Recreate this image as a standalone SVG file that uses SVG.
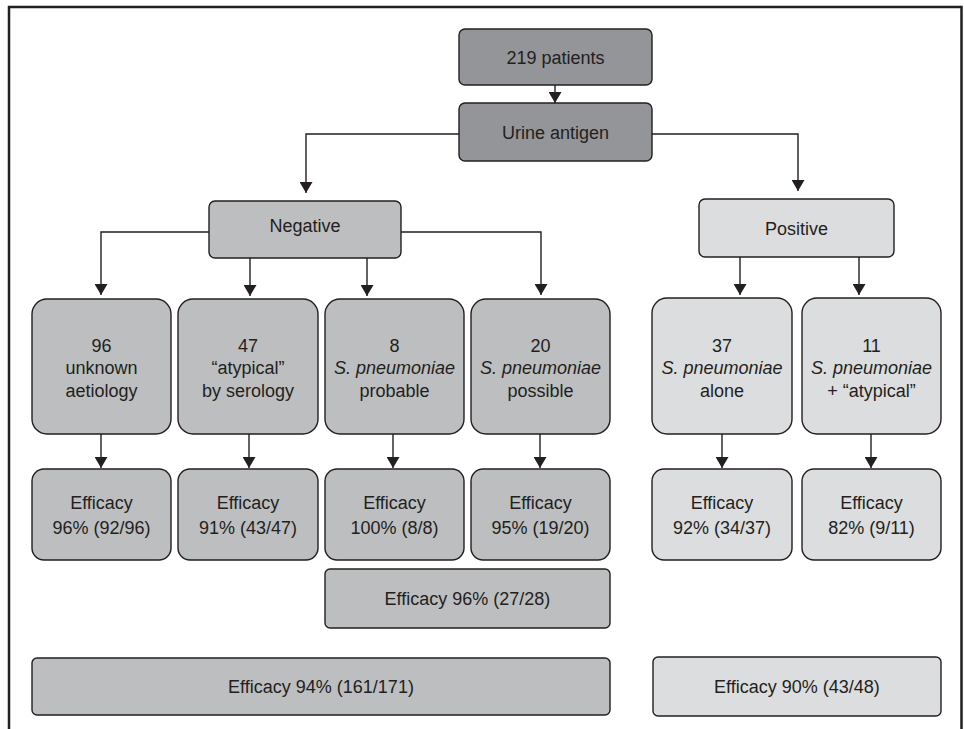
<svg xmlns="http://www.w3.org/2000/svg" width="964" height="729" viewBox="0 0 964 729">
<defs>
<style>
.t{font-family:"Liberation Sans",Arial,sans-serif;font-size:18px;fill:#231f20;text-anchor:middle}
.i{font-style:italic}
.b{stroke:#231f20;stroke-width:1.4}
.dk{fill:#939598}
.md{fill:#bcbec0}
.lt{fill:#dcddde}
.c{fill:none;stroke:#231f20;stroke-width:1.4}
</style>
<marker id="ah" markerWidth="11" markerHeight="13" refX="11" refY="6.5" orient="auto" markerUnits="userSpaceOnUse">
<path d="M0,0 L11,6.5 L0,13 Z" fill="#231f20"/>
</marker>
</defs>
<rect width="964" height="729" fill="#ffffff"/>
<path d="M9,729 V7 H961.5 V729" fill="none" stroke="#231f20" stroke-width="2.5"/>

<g id="connectors">
<path class="c" d="M555,85 V103" marker-end="url(#ah)"/>
<path class="c" d="M459,134 H306 V193" marker-end="url(#ah)"/>
<path class="c" d="M652,134 H798 V191" marker-end="url(#ah)"/>
<path class="c" d="M209,232 H101 V295" marker-end="url(#ah)"/>
<path class="c" d="M401,232 H541 V295" marker-end="url(#ah)"/>
<path class="c" d="M250,258 V296" marker-end="url(#ah)"/>
<path class="c" d="M367,258 V296" marker-end="url(#ah)"/>
<path class="c" d="M740,257 V295" marker-end="url(#ah)"/>
<path class="c" d="M859,257 V295" marker-end="url(#ah)"/>
<path class="c" d="M101,434 V468" marker-end="url(#ah)"/>
<path class="c" d="M249,434 V468" marker-end="url(#ah)"/>
<path class="c" d="M393,434 V468" marker-end="url(#ah)"/>
<path class="c" d="M540,434 V468" marker-end="url(#ah)"/>
<path class="c" d="M722,434 V468" marker-end="url(#ah)"/>
<path class="c" d="M871,434 V468" marker-end="url(#ah)"/>
</g>

<g id="n219">
<rect class="b dk" x="459" y="29" width="193" height="56" rx="6"/>
<text class="t" x="555.5" y="63.5">219 patients</text>
</g>
<g id="urine">
<rect class="b dk" x="459" y="103" width="193" height="58" rx="6"/>
<text class="t" x="555.5" y="138.5">Urine antigen</text>
</g>
<g id="negative">
<rect class="b md" x="209" y="201" width="192" height="57" rx="6"/>
<text class="t" x="305" y="231.5">Negative</text>
</g>
<g id="positive">
<rect class="b lt" x="699" y="199" width="195" height="58" rx="6"/>
<text class="t" x="796.5" y="234.5">Positive</text>
</g>

<g id="g96">
<rect class="b md" x="32" y="299" width="139" height="135" rx="15"/>
<text class="t" x="101.5" y="351.5">96</text>
<text class="t" x="101.5" y="374">unknown</text>
<text class="t" x="101.5" y="396.5">aetiology</text>
</g>
<g id="g47">
<rect class="b md" x="178" y="299" width="140" height="135" rx="15"/>
<text class="t" x="248" y="351.5">47</text>
<text class="t" x="248" y="374">“atypical”</text>
<text class="t" x="248" y="396.5">by serology</text>
</g>
<g id="g8">
<rect class="b md" x="325" y="299" width="139" height="135" rx="15"/>
<text class="t" x="394.5" y="351.5">8</text>
<text class="t i" x="394.5" y="374">S. pneumoniae</text>
<text class="t" x="394.5" y="396.5">probable</text>
</g>
<g id="g20">
<rect class="b md" x="471" y="299" width="139" height="135" rx="15"/>
<text class="t" x="540.5" y="351.5">20</text>
<text class="t i" x="540.5" y="374">S. pneumoniae</text>
<text class="t" x="540.5" y="396.5">possible</text>
</g>
<g id="g37">
<rect class="b lt" x="652" y="298" width="140" height="136" rx="15"/>
<text class="t" x="722" y="351.5">37</text>
<text class="t i" x="722" y="374">S. pneumoniae</text>
<text class="t" x="722" y="396.5">alone</text>
</g>
<g id="g11">
<rect class="b lt" x="802" y="298" width="139" height="136" rx="15"/>
<text class="t" x="871.5" y="351.5">11</text>
<text class="t i" x="871.5" y="374">S. pneumoniae</text>
<text class="t" x="871.5" y="396.5">+ “atypical”</text>
</g>

<g id="e96">
<rect class="b md" x="32" y="469" width="139" height="91" rx="12"/>
<text class="t" x="101.5" y="509">Efficacy</text>
<text class="t" x="101.5" y="534">96% (92/96)</text>
</g>
<g id="e47">
<rect class="b md" x="178" y="469" width="140" height="91" rx="12"/>
<text class="t" x="248" y="509">Efficacy</text>
<text class="t" x="248" y="534">91% (43/47)</text>
</g>
<g id="e8">
<rect class="b md" x="325" y="469" width="139" height="91" rx="12"/>
<text class="t" x="394.5" y="509">Efficacy</text>
<text class="t" x="394.5" y="534">100% (8/8)</text>
</g>
<g id="e20">
<rect class="b md" x="471" y="469" width="139" height="91" rx="12"/>
<text class="t" x="540.5" y="509">Efficacy</text>
<text class="t" x="540.5" y="534">95% (19/20)</text>
</g>
<g id="e37">
<rect class="b lt" x="652" y="469" width="140" height="91" rx="12"/>
<text class="t" x="722" y="509">Efficacy</text>
<text class="t" x="722" y="534">92% (34/37)</text>
</g>
<g id="e11">
<rect class="b lt" x="802" y="469" width="139" height="91" rx="12"/>
<text class="t" x="871.5" y="509">Efficacy</text>
<text class="t" x="871.5" y="534">82% (9/11)</text>
</g>

<g id="e2728">
<rect class="b md" x="325" y="569" width="285" height="59" rx="5"/>
<text class="t" x="467.5" y="605">Efficacy 96% (27/28)</text>
</g>
<g id="eneg">
<rect class="b md" x="32" y="658" width="578" height="57" rx="5"/>
<text class="t" x="321" y="693">Efficacy 94% (161/171)</text>
</g>
<g id="epos">
<rect class="b lt" x="653" y="657" width="288" height="59" rx="5"/>
<text class="t" x="797" y="692.5">Efficacy 90% (43/48)</text>
</g>
</svg>
